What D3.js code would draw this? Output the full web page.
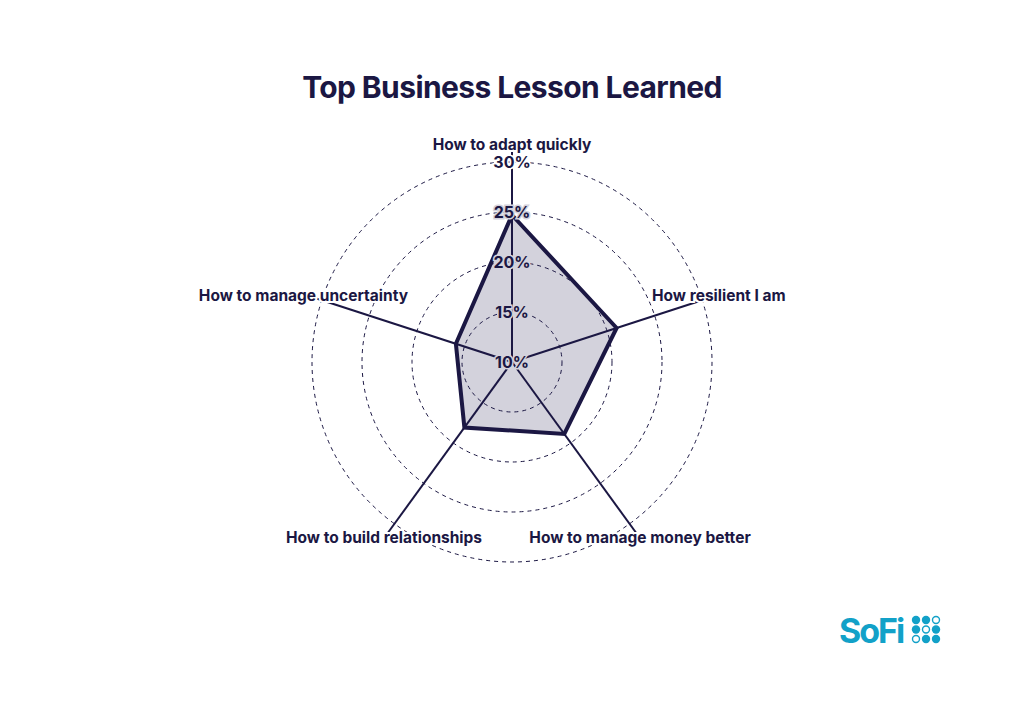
<!DOCTYPE html>
<html>
<head>
<meta charset="utf-8">
<script src="https://cdn.jsdelivr.net/npm/d3@7"></script>
<style>
  html, body { margin: 0; padding: 0; background: #ffffff; }
  svg { display: block; }
  text { font-family: Inter, Lato, "DejaVu Sans", sans-serif; }
</style>
</head>
<body>
<svg id="chart" width="1024" height="718"></svg>
<script>
const title = "Top Business Lesson Learned";
const categories = ["How to adapt quickly", "How resilient I am", "How to manage money better", "How to build relationships", "How to manage uncertainty"];
const values = [24.7, 21.0, 18.9, 18.1, 15.9];
const tickValues = [10, 15, 20, 25, 30];
const tickLabels = ["10%", "15%", "20%", "25%", "30%"];
const logoText = "SoFi";
const logoDots = [1,1,0, 1,0,1, 0,1,1];

const navy = "#1b1743";
const fill = "#d3d2dc";
const teal = "#12a1c8";

const svg = d3.select("#chart");
const cx = 512, cy = 362;
const r = d3.scaleLinear().domain([10, 30]).range([0, 200]);
const angle = d3.scaleLinear().domain([0, categories.length]).range([-Math.PI/2, 1.5*Math.PI]);

svg.append("text")
  .attr("x", 512).attr("y", 98)
  .attr("text-anchor", "middle")
  .attr("font-size", 30).attr("font-weight", 700)
  .attr("letter-spacing", -0.6)
  .attr("fill", navy)
  .text(title);

const g = svg.append("g").attr("transform", `translate(${cx},${cy})`);

const line = d3.lineRadial()
  .angle((d, i) => angle(i) + Math.PI/2)
  .radius(d => r(d))
  .curve(d3.curveLinearClosed);
g.append("path").datum(values)
  .attr("d", line)
  .attr("fill", fill)
  .attr("stroke", "none");

g.selectAll("circle.grid").data(tickValues.filter(t => t > 10))
  .join("circle").attr("class", "grid")
  .attr("r", d => r(d))
  .attr("fill", "none")
  .attr("stroke", navy).attr("stroke-width", 1)
  .attr("stroke-dasharray", "4,4");

const axisLen = 212;
g.selectAll("line.axis").data(categories)
  .join("line").attr("class", "axis")
  .attr("x1", 0).attr("y1", 0)
  .attr("x2", (d, i) => axisLen * Math.cos(angle(i)))
  .attr("y2", (d, i) => axisLen * Math.sin(angle(i)))
  .attr("stroke", navy).attr("stroke-width", 2);

g.append("path").datum(values)
  .attr("d", line)
  .attr("fill", "none")
  .attr("stroke", navy).attr("stroke-width", 4)
  .attr("stroke-linejoin", "miter");

const labelPos = [
  {x: 512, y: 150, anchor: "middle"},
  {x: 652, y: 301, anchor: "start"},
  {x: 640, y: 543, anchor: "middle"},
  {x: 384, y: 543, anchor: "middle"},
  {x: 408, y: 301, anchor: "end"}
];
svg.selectAll("text.cat").data(categories)
  .join("text").attr("class", "cat")
  .attr("x", (d, i) => labelPos[i].x)
  .attr("y", (d, i) => labelPos[i].y)
  .attr("text-anchor", (d, i) => labelPos[i].anchor)
  .attr("font-size", 15.5).attr("font-weight", 700)
  .attr("fill", navy)
  .attr("stroke", "#ffffff").attr("stroke-width", 4)
  .attr("paint-order", "stroke")
  .text(d => d);

g.selectAll("text.tick").data(tickValues)
  .join("text").attr("class", "tick")
  .attr("x", 0)
  .attr("y", d => -r(d) + 6)
  .attr("text-anchor", "middle")
  .attr("font-size", 16).attr("font-weight", 700)
  .attr("fill", navy)
  .attr("stroke", d => d === 30 ? "#ffffff" : fill)
  .attr("stroke-width", 3)
  .attr("paint-order", "stroke")
  .text((d, i) => tickLabels[i]);

svg.append("text")
  .attr("x", 839).attr("y", 643)
  .attr("font-size", 34).attr("font-weight", 700)
  .attr("letter-spacing", -2)
  .attr("fill", teal)
  .text(logoText);
const dg = svg.append("g");
dg.selectAll("circle").data(logoDots).join("circle")
  .attr("cx", (d, i) => 916 + (i % 3) * 10)
  .attr("cy", (d, i) => 620 + Math.floor(i / 3) * 9.5)
  .attr("r", d => d ? 4.2 : 3.5)
  .attr("fill", d => d ? teal : "#ffffff")
  .attr("stroke", teal)
  .attr("stroke-width", d => d ? 0 : 1.4);
</script>
</body>
</html>
